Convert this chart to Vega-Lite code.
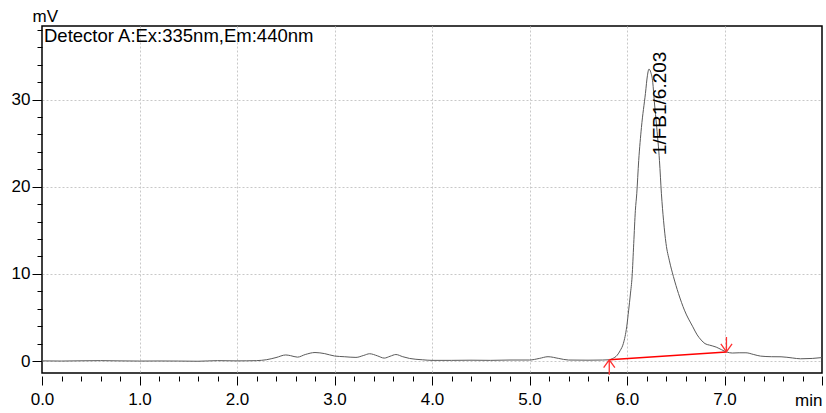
{
  "$schema": "https://vega.github.io/schema/vega-lite/v6.json",
  "width": 780,
  "height": 347,
  "autosize": "none",
  "padding": {"left": 42, "top": 26, "right": 4, "bottom": 40},
  "background": "white",
  "config": {
    "font": "Liberation Sans",
    "view": {"stroke": "black", "strokeWidth": 1.5},
    "axis": {"labelColor": "black", "titleColor": "black", "tickColor": "black", "titleFontWeight": "normal"}
  },
  "layer": [
    {
      "data": {"values": [
        {"time": 0.0, "mV": 0.02}, {"time": 0.2, "mV": 0.0}, {"time": 0.4, "mV": 0.03}, {"time": 0.6, "mV": 0.05},
        {"time": 0.8, "mV": 0.02}, {"time": 1.0, "mV": 0.0}, {"time": 1.2, "mV": 0.01}, {"time": 1.4, "mV": 0.0},
        {"time": 1.6, "mV": -0.02}, {"time": 1.8, "mV": 0.05}, {"time": 2.0, "mV": 0.02}, {"time": 2.1, "mV": 0.03},
        {"time": 2.2, "mV": 0.05}, {"time": 2.3, "mV": 0.15}, {"time": 2.4, "mV": 0.4}, {"time": 2.5, "mV": 0.7},
        {"time": 2.55, "mV": 0.62}, {"time": 2.62, "mV": 0.45}, {"time": 2.7, "mV": 0.75}, {"time": 2.8, "mV": 0.98},
        {"time": 2.9, "mV": 0.85}, {"time": 3.0, "mV": 0.58}, {"time": 3.1, "mV": 0.5}, {"time": 3.22, "mV": 0.42},
        {"time": 3.3, "mV": 0.65}, {"time": 3.36, "mV": 0.84}, {"time": 3.44, "mV": 0.6}, {"time": 3.51, "mV": 0.34},
        {"time": 3.57, "mV": 0.55}, {"time": 3.63, "mV": 0.75}, {"time": 3.7, "mV": 0.5}, {"time": 3.77, "mV": 0.3},
        {"time": 3.9, "mV": 0.15}, {"time": 4.0, "mV": 0.08}, {"time": 4.2, "mV": 0.08}, {"time": 4.4, "mV": 0.1},
        {"time": 4.6, "mV": 0.08}, {"time": 4.8, "mV": 0.12}, {"time": 5.0, "mV": 0.12}, {"time": 5.1, "mV": 0.3},
        {"time": 5.19, "mV": 0.5}, {"time": 5.3, "mV": 0.3}, {"time": 5.4, "mV": 0.12}, {"time": 5.6, "mV": 0.1},
        {"time": 5.75, "mV": 0.12}, {"time": 5.818, "mV": 0.15}, {"time": 5.85, "mV": 0.28}, {"time": 5.9, "mV": 0.68},
        {"time": 5.93, "mV": 1.2}, {"time": 5.963, "mV": 2.03}, {"time": 5.997, "mV": 3.93}, {"time": 6.017, "mV": 5.84},
        {"time": 6.035, "mV": 7.7}, {"time": 6.052, "mV": 9.66}, {"time": 6.069, "mV": 13.48}, {"time": 6.086, "mV": 17.3},
        {"time": 6.1, "mV": 19.2}, {"time": 6.12, "mV": 23.0}, {"time": 6.148, "mV": 26.8}, {"time": 6.189, "mV": 30.7},
        {"time": 6.21, "mV": 32.8}, {"time": 6.225, "mV": 33.5}, {"time": 6.245, "mV": 33.1}, {"time": 6.264, "mV": 32.0},
        {"time": 6.28, "mV": 29.8}, {"time": 6.305, "mV": 26.8}, {"time": 6.333, "mV": 23.0}, {"time": 6.353, "mV": 19.2},
        {"time": 6.375, "mV": 16.1}, {"time": 6.4, "mV": 13.5}, {"time": 6.435, "mV": 11.5}, {"time": 6.476, "mV": 9.7},
        {"time": 6.528, "mV": 7.75}, {"time": 6.589, "mV": 5.84}, {"time": 6.675, "mV": 3.93}, {"time": 6.72, "mV": 3.0},
        {"time": 6.761, "mV": 2.41}, {"time": 6.8, "mV": 2.0}, {"time": 6.846, "mV": 1.83}, {"time": 6.915, "mV": 1.6},
        {"time": 6.97, "mV": 1.3}, {"time": 7.02, "mV": 1.05}, {"time": 7.08, "mV": 0.92}, {"time": 7.15, "mV": 0.95},
        {"time": 7.22, "mV": 0.95}, {"time": 7.3, "mV": 0.75}, {"time": 7.37, "mV": 0.57}, {"time": 7.48, "mV": 0.5},
        {"time": 7.58, "mV": 0.49}, {"time": 7.7, "mV": 0.35}, {"time": 7.78, "mV": 0.26}, {"time": 7.9, "mV": 0.3},
        {"time": 8.0, "mV": 0.4}
      ]},
      "mark": {"type": "line", "color": "#5a5a5a", "strokeWidth": 1, "interpolate": "monotone"},
      "encoding": {
        "x": {
          "field": "time", "type": "quantitative",
          "scale": {"domain": [0, 8], "nice": false, "zero": false},
          "axis": {
            "title": "min",
            "values": [0, 0.2, 0.4, 0.6, 0.8, 1, 1.2, 1.4, 1.6, 1.8, 2, 2.2, 2.4, 2.6, 2.8, 3, 3.2, 3.4, 3.6, 3.8, 4, 4.2, 4.4, 4.6, 4.8, 5, 5.2, 5.4, 5.6, 5.8, 6, 6.2, 6.4, 6.6, 6.8, 7, 7.2, 7.4, 7.6, 7.8, 8],
            "tickCount": 200,
            "offset": 3,
            "domain": false,
            "tickSize": {"condition": {"test": "abs(datum.value - round(datum.value)) < 0.001", "value": 9}, "value": 5},
            "labelExpr": "abs(datum.value - round(datum.value)) < 0.001 && datum.value < 7.5 ? format(datum.value, '.1f') : ''",
            "labelFontSize": 17,
            "labelPadding": 6,
            "labelOverlap": false,
            "labelFlush": false,
            "labelBound": false,
            "grid": true,
            "gridColor": "#c8c8c8",
            "gridDash": [2, 2],
            "gridOpacity": {"condition": {"test": "abs(datum.value - round(datum.value)) < 0.001 && datum.value > 0.5 && datum.value < 7.5", "value": 1}, "value": 0},
            "titleX": 780,
            "titleY": 29,
            "titleAlign": "right",
            "titleBaseline": "alphabetic",
            "titleFontSize": 17
          }
        },
        "y": {
          "field": "mV", "type": "quantitative",
          "scale": {"domain": [-1.37, 38.45], "nice": false, "zero": false},
          "axis": {
            "title": "mV",
            "values": [0, 2, 4, 6, 8, 10, 12, 14, 16, 18, 20, 22, 24, 26, 28, 30, 32, 34, 36, 38],
            "tickCount": 200,
            "domain": false,
            "tickSize": {"condition": {"test": "datum.value % 10 === 0", "value": 10}, "value": 5},
            "labelExpr": "datum.value % 10 === 0 ? datum.value : ''",
            "labelFontSize": 17,
            "labelPadding": 2,
            "labelOverlap": false,
            "labelBound": false,
            "grid": true,
            "gridColor": "#c8c8c8",
            "gridDash": [2, 2],
            "gridOpacity": {"condition": {"test": "datum.value % 10 === 0", "value": 1}, "value": 0},
            "titleAngle": 0,
            "titleX": -10,
            "titleY": -5,
            "titleAlign": "left",
            "titleBaseline": "alphabetic",
            "titleFontSize": 17
          }
        }
      }
    },
    {
      "data": {"values": [{"time": 5.818, "mV": 0.15}, {"time": 7.02, "mV": 1.05}]},
      "mark": {"type": "line", "color": "#ff0000", "strokeWidth": 1.5},
      "encoding": {
        "x": {"field": "time", "type": "quantitative"},
        "y": {"field": "mV", "type": "quantitative"}
      }
    },
    {
      "data": {"values": [{"time": 5.818, "mV": 0.15, "kind": "start"}, {"time": 7.02, "mV": 1.05, "kind": "end"}]},
      "mark": {"type": "point", "filled": false, "color": "#ff3030", "strokeWidth": 1.3, "size": 350, "opacity": 1},
      "encoding": {
        "x": {"field": "time", "type": "quantitative"},
        "y": {"field": "mV", "type": "quantitative"},
        "shape": {
          "field": "kind", "type": "nominal", "legend": null,
          "scale": {"domain": ["start", "end"], "range": ["M0,0L0,1.6M-0.6,0.85L0,0L0.6,0.85", "M0,0L0,-1.6M-0.6,-0.85L0,0L0.6,-0.85"]}
        }
      }
    },
    {
      "data": {"values": [{"time": 6.203, "mV": 33.5, "label": "1/FB1/6.203"}]},
      "mark": {"type": "text", "angle": -90, "align": "left", "baseline": "middle", "fontSize": 19, "dx": -86, "dy": 13, "color": "black"},
      "encoding": {
        "x": {"field": "time", "type": "quantitative"},
        "y": {"field": "mV", "type": "quantitative"},
        "text": {"field": "label"}
      }
    },
    {
      "data": {"values": [{"label": "Detector A:Ex:335nm,Em:440nm"}]},
      "mark": {"type": "text", "align": "left", "baseline": "top", "fontSize": 18.5, "dx": 2, "dy": 1, "color": "black"},
      "encoding": {
        "x": {"datum": 0, "type": "quantitative"},
        "y": {"datum": 38.45, "type": "quantitative"},
        "text": {"field": "label"}
      }
    }
  ]
}
